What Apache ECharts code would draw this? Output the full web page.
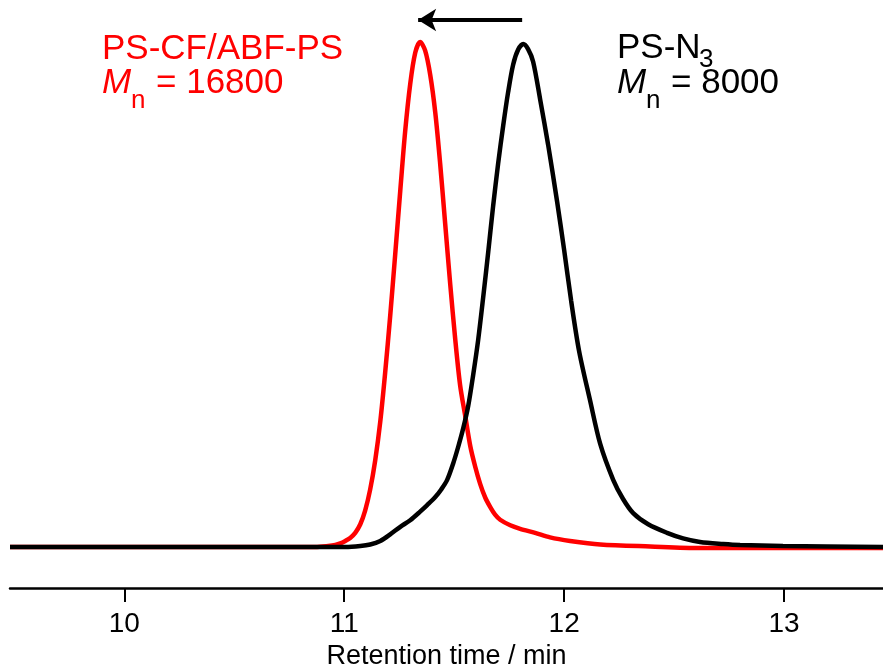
<!DOCTYPE html>
<html><head><meta charset="utf-8">
<script src="https://cdn.jsdelivr.net/npm/echarts@6/dist/echarts.min.js"></script>
<style>html,body{margin:0;padding:0;background:#fff}#c{width:883px;height:668px}</style>
</head><body><div id="c"></div>
<script>
// Retention time (min) and normalized RI intensity
const redTime = [9.48,10.8,10.868,10.927,10.959,10.982,11.005,11.027,11.05,11.073,11.095,11.118,11.141,11.164,11.186,11.209,11.232,11.255,11.277,11.3,11.323,11.345,11.368,11.391,11.414,11.436,11.459,11.482,11.505,11.527,11.55,11.573,11.595,11.618,11.641,11.664,11.686,11.709,11.755,11.8,11.868,11.936,12.027,12.164,12.391,12.618,13.45];
const redValue = [0,0,0,0.002,0.004,0.007,0.012,0.018,0.028,0.045,0.072,0.114,0.172,0.249,0.345,0.458,0.581,0.707,0.823,0.917,0.979,1,0.983,0.935,0.86,0.76,0.64,0.52,0.41,0.32,0.26,0.20,0.16,0.125,0.098,0.079,0.064,0.054,0.043,0.036,0.028,0.019,0.012,0.005,0.001,-0.002,-0.002];
const blackTime = [9.48,10.8,11.005,11.073,11.118,11.164,11.209,11.255,11.3,11.345,11.377,11.414,11.441,11.468,11.495,11.518,11.541,11.564,11.586,11.609,11.632,11.655,11.677,11.7,11.723,11.745,11.768,11.791,11.814,11.836,11.859,11.891,11.927,11.968,12.0,12.032,12.068,12.118,12.164,12.223,12.268,12.314,12.382,12.468,12.541,12.618,12.723,12.8,12.995,13.45];
const blackValue = [0,0,0,0.002,0.005,0.012,0.025,0.040,0.053,0.070,0.083,0.099,0.114,0.133,0.165,0.198,0.235,0.28,0.34,0.41,0.495,0.585,0.675,0.76,0.835,0.90,0.955,0.985,0.996,0.986,0.961,0.886,0.797,0.684,0.588,0.487,0.388,0.29,0.204,0.133,0.095,0.067,0.045,0.028,0.017,0.010,0.006,0.004,0.002,0];
const xTicks = [10, 11, 12, 13];
const arrowY = 1.0436;
const arrowFrom = 11.809;
const arrowTo = 11.336;

const zip = (a, b) => a.map((v, i) => [v, b[i]]);
const FONT = '"Liberation Sans", Arial, Helvetica, sans-serif';
const chart = echarts.init(document.getElementById('c'), null, {renderer: 'canvas'});
chart.setOption({
  animation: false,
  backgroundColor: '#fff',
  grid: {left: 10, right: 0, top: 17, bottom: 80, containLabel: false, outerBoundsMode: 'none'},
  xAxis: {
    type: 'value', min: 9.48, max: 13.45,
    name: 'Retention time / min', nameLocation: 'middle', nameGap: 54,
    nameTextStyle: {fontSize: 27, color: '#000', fontFamily: FONT},
    axisLine: {show: true, onZero: false, lineStyle: {color: '#000', width: 2.5}},
    axisTick: {show: true, length: 14, inside: false, customValues: xTicks, lineStyle: {color: '#000', width: 2}},
    axisLabel: {show: true, margin: 22, fontSize: 28, color: '#000', fontFamily: FONT, customValues: xTicks},
    splitLine: {show: false}
  },
  yAxis: {
    type: 'value', min: -0.0812, max: 1.0495, show: false, splitLine: {show: false}
  },
  series: [
    {type: 'line', data: zip(redTime, redValue), showSymbol: false, smooth: 0.3, clip: false,
     lineStyle: {color: '#ff0000', width: 4.5}, z: 2},
    {type: 'line', data: zip(blackTime, blackValue), showSymbol: false, smooth: 0.3, clip: false,
     lineStyle: {color: '#000000', width: 4.5}, z: 3,
     markLine: {silent: true, animation: false, symbol: ['none', 'arrow'], symbolSize: [17, 18],
       label: {show: false}, lineStyle: {color: '#000', width: 4, type: 'solid'},
       data: [[{coord: [arrowFrom, arrowY]}, {coord: [arrowTo, arrowY]}]]}}
  ],
  graphic: [
    {type: 'text', left: 102, top: 32, style: {text: 'PS-CF/ABF-PS', fontSize: 35, fill: '#ff0000', fontFamily: FONT}},
    {type: 'text', left: 102, top: 66, style: {text: 'M', fontSize: 35, fontStyle: 'italic', fill: '#ff0000', fontFamily: FONT}},
    {type: 'text', left: 131, top: 88, style: {text: 'n', fontSize: 26, fill: '#ff0000', fontFamily: FONT}},
    {type: 'text', left: 156, top: 66, style: {text: '= 16800', fontSize: 35, fill: '#ff0000', fontFamily: FONT}},
    {type: 'text', left: 617, top: 31, style: {text: 'PS-N', fontSize: 35, fill: '#000', fontFamily: FONT}},
    {type: 'text', left: 699, top: 47, style: {text: '3', fontSize: 26, fill: '#000', fontFamily: FONT}},
    {type: 'text', left: 617, top: 66, style: {text: 'M', fontSize: 35, fontStyle: 'italic', fill: '#000', fontFamily: FONT}},
    {type: 'text', left: 646, top: 88, style: {text: 'n', fontSize: 26, fill: '#000', fontFamily: FONT}},
    {type: 'text', left: 671, top: 66, style: {text: '= 8000', fontSize: 35, fill: '#000', fontFamily: FONT}}
  ]
});
</script></body></html>
